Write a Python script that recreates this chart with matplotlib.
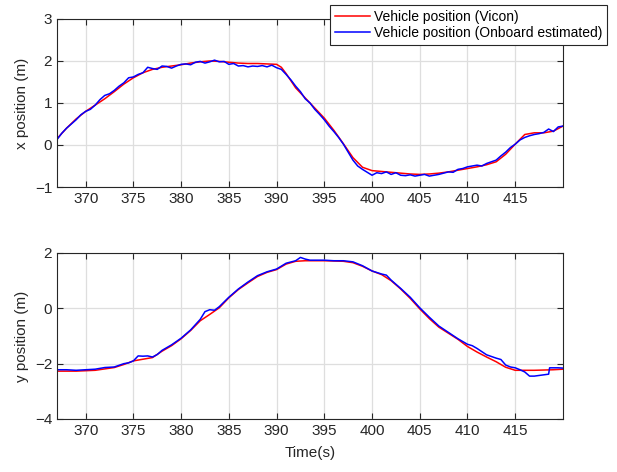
import numpy as np
import matplotlib
matplotlib.use("Agg")
import matplotlib.pyplot as plt

plt.rcParams['font.family'] = ['Liberation Sans', 'DejaVu Sans']
plt.rcParams['font.size'] = 11

# ---------------- data ----------------
# x position, Vicon
tx_vicon = [367, 368, 369, 370, 371, 372, 373, 374, 375, 376, 377, 378, 379, 380,
            381, 382, 383, 384, 385, 386, 387, 388, 389, 390, 390.5, 391, 392, 393,
            394, 395, 396, 397, 398, 399, 400, 401, 402, 403, 404, 405, 406, 407,
            408, 409, 410, 411, 412, 413, 414, 415, 416, 417, 418, 419, 420]
x_vicon = [0.15, 0.40, 0.62, 0.80, 0.95, 1.10, 1.27, 1.45, 1.60, 1.72, 1.80, 1.85,
           1.88, 1.91, 1.95, 1.98, 2.00, 1.99, 1.97, 1.95, 1.94, 1.94, 1.93, 1.92,
           1.85, 1.70, 1.36, 1.12, 0.88, 0.64, 0.35, 0.03, -0.30, -0.53, -0.61,
           -0.63, -0.65, -0.67, -0.69, -0.70, -0.69, -0.67, -0.64, -0.60, -0.56,
           -0.52, -0.47, -0.40, -0.22, 0.02, 0.25, 0.29, 0.29, 0.33, 0.45]

# x position, onboard estimate
tx_onb = [367, 367.5, 368, 368.5, 369, 369.5, 370, 370.5, 371, 371.5, 372, 372.5,
          373, 373.5, 374, 374.5, 375, 375.5, 376, 376.5, 377, 377.5, 378, 378.5,
          379, 379.5, 380, 380.5, 381, 381.5, 382, 382.5, 383, 383.5, 384, 384.5,
          385, 385.5, 386, 386.5, 387, 387.5, 388, 388.5, 389, 389.5, 390, 390.5,
          391, 391.5, 392, 392.5, 393, 393.5, 394, 394.5, 395, 395.5, 396, 396.5,
          397, 397.5, 398, 398.5, 399, 399.5, 400, 400.5, 401, 401.5, 402, 402.5,
          403, 403.5, 404, 404.5, 405, 405.5, 406, 406.5, 407, 407.5, 408, 408.5,
          409, 409.5, 410, 410.5, 411, 411.5, 412, 412.5, 413, 413.5, 414, 414.5,
          415, 415.5, 416, 416.5, 417, 417.5, 418, 418.5, 419, 419.5, 420]
x_onb = [0.13, 0.28, 0.40, 0.50, 0.60, 0.72, 0.80, 0.85, 0.95, 1.08, 1.18, 1.22,
         1.30, 1.40, 1.48, 1.60, 1.62, 1.68, 1.72, 1.85, 1.82, 1.80, 1.88, 1.87,
         1.83, 1.88, 1.92, 1.93, 1.91, 1.97, 1.99, 1.95, 1.98, 2.02, 1.98, 1.99,
         1.92, 1.94, 1.88, 1.89, 1.86, 1.88, 1.87, 1.89, 1.86, 1.90, 1.84, 1.80,
         1.68, 1.55, 1.40, 1.27, 1.10, 1.00, 0.85, 0.73, 0.60, 0.45, 0.32, 0.18,
         0.02, -0.17, -0.36, -0.50, -0.58, -0.65, -0.72, -0.66, -0.68, -0.64,
         -0.70, -0.66, -0.72, -0.73, -0.71, -0.74, -0.72, -0.70, -0.74, -0.72,
         -0.70, -0.67, -0.64, -0.65, -0.58, -0.56, -0.52, -0.50, -0.48, -0.50,
         -0.44, -0.40, -0.36, -0.26, -0.17, -0.06, 0.02, 0.12, 0.18, 0.22, 0.25,
         0.27, 0.30, 0.38, 0.32, 0.43, 0.45]

# y position, Vicon
ty_vicon = [367, 369, 371, 373, 374, 375, 376, 377, 378, 379, 380, 381, 382, 383,
            384, 385, 386, 387, 388, 389, 390, 391, 392, 393, 395, 397, 398, 399,
            400, 401, 402, 403, 404, 405, 406, 407, 408, 409, 410, 411, 412, 413,
            414, 415, 417, 419, 420]
y_vicon = [-2.27, -2.27, -2.24, -2.14, -2.03, -1.90, -1.84, -1.78, -1.55, -1.35,
           -1.10, -0.80, -0.45, -0.22, 0.02, 0.38, 0.68, 0.92, 1.15, 1.30, 1.40,
           1.60, 1.70, 1.72, 1.72, 1.70, 1.65, 1.52, 1.35, 1.22, 1.00, 0.70, 0.36,
           -0.02, -0.37, -0.68, -0.90, -1.12, -1.38, -1.58, -1.76, -1.93, -2.13,
           -2.24, -2.24, -2.22, -2.20]

# y position, onboard estimate
ty_onb = [367, 368, 369, 370, 371, 372, 373, 374, 374.5, 375, 375.5, 376, 376.5,
          377, 377.5, 378, 379, 380, 381, 382, 382.5, 383, 383.5, 384, 385, 386,
          387, 388, 389, 390, 391, 392, 392.5, 393, 393.5, 395, 396, 397, 398, 399,
          400, 401, 401.5, 402, 403, 404, 405, 406, 407, 408, 409, 410, 410.5, 411,
          412, 413, 413.5, 414, 414.5, 415, 415.5, 416, 416.5, 417, 418.5, 418.6,
          419.5, 420]
y_onb = [-2.22, -2.22, -2.24, -2.22, -2.20, -2.14, -2.12, -2.00, -1.97, -1.90,
         -1.72, -1.73, -1.72, -1.76, -1.67, -1.52, -1.32, -1.08, -0.78, -0.40,
         -0.12, -0.05, -0.07, 0.06, 0.40, 0.70, 0.95, 1.18, 1.32, 1.42, 1.63, 1.72,
         1.84, 1.78, 1.74, 1.74, 1.72, 1.72, 1.68, 1.54, 1.35, 1.24, 1.20, 1.02,
         0.72, 0.40, 0.02, -0.32, -0.64, -0.87, -1.10, -1.30, -1.35, -1.45, -1.68,
         -1.80, -1.85, -2.05, -2.12, -2.15, -2.22, -2.30, -2.45, -2.45, -2.38,
         -2.15, -2.15, -2.16]

xticks = [370, 375, 380, 385, 390, 395, 400, 405, 410, 415]
labels = ["Vehicle position (Vicon)", "Vehicle position (Onboard estimated)"]
# ------------------------------------------------------------

fig = plt.figure(figsize=(6.17, 4.72), dpi=100)
ax1 = fig.add_axes([0.0924, 0.6038, 0.820, 0.356])
ax2 = fig.add_axes([0.0924, 0.1123, 0.820, 0.3517])

spine_col = "#262626"
for ax in (ax1, ax2):
    ax.set_xlim(367, 420)
    ax.set_xticks(xticks)
    ax.grid(True, color="#dedede", linewidth=0.9)
    ax.set_axisbelow(True)
    ax.tick_params(direction="in", top=True, right=True, length=4,
                   color=spine_col, labelcolor="#262626", labelsize=11)
    for s in ax.spines.values():
        s.set_color(spine_col)
        s.set_linewidth(0.8)

l1, = ax1.plot(tx_vicon, x_vicon, color="red", lw=1.1)
l2, = ax1.plot(tx_onb, x_onb, color="blue", lw=1.1)
ax1.set_ylim(-1, 3)
ax1.set_yticks([-1, 0, 1, 2, 3])
ax1.set_ylabel("x position (m)", color="#262626")

ax2.plot(ty_vicon, y_vicon, color="red", lw=1.1)
ax2.plot(ty_onb, y_onb, color="blue", lw=1.1)
ax2.set_ylim(-4, 2)
ax2.set_yticks([-4, -2, 0, 2])
ax2.set_ylabel("y position (m)", color="#262626")
ax2.set_xlabel("Time(s)", color="#262626")

ax1.yaxis.set_label_coords(-0.055, 0.5)
ax2.yaxis.set_label_coords(-0.055, 0.5)
ax2.xaxis.set_label_coords(0.5, -0.165)

# MATLAB-style legend: slightly smaller font than the axes
leg = fig.legend([l1, l2], labels, loc="upper right", bbox_to_anchor=(0.984, 0.99),
                 fancybox=False, framealpha=1, edgecolor="#262626", fontsize=10,
                 handlelength=2.5, borderpad=0.35, labelspacing=0.2,
                 handletextpad=0.3, borderaxespad=0)
leg.get_frame().set_linewidth(0.8)

fig.savefig("out.png", dpi=100)
